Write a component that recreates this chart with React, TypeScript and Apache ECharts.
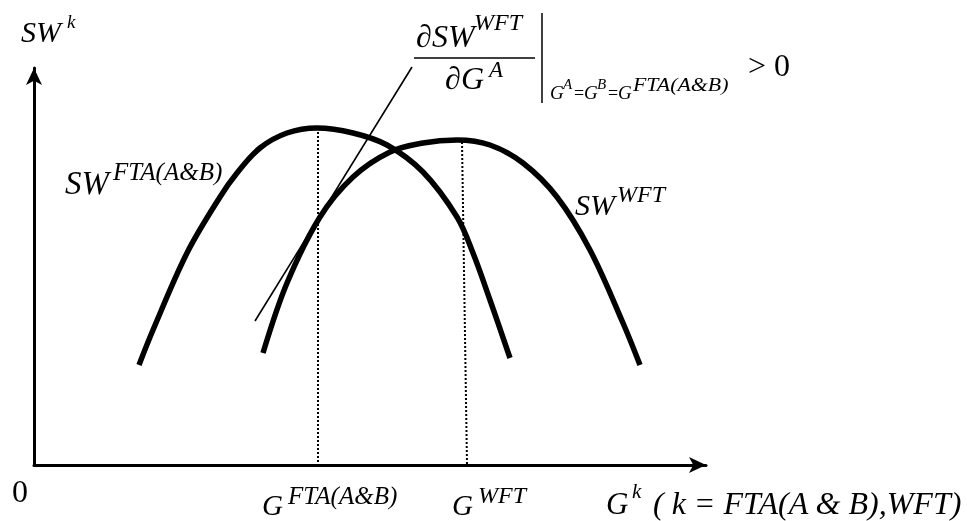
import React, { useEffect, useRef } from "react";
import * as echarts from "echarts";

// Curves (x: G, y: SW, in chart units)
const swFTA: number[][] = [
  [105, 100], [119, 135], [153, 212], [186, 268], [203, 292], [226, 317], [253, 332],
  [283, 337], [319, 332], [353, 320], [389, 293], [423, 248], [439, 212], [456, 165], [476, 107],
];
const swWFT: number[][] = [
  [229, 112], [253, 182], [286, 248], [319, 288], [356, 313], [389, 322], [423, 325],
  [456, 320], [489, 302], [523, 268], [556, 215], [589, 142], [606, 100],
];
const tangent: number[][] = [[221, 144], [378, 398]];
const dropFTA: number[][] = [[284, 337], [284, 0]];
const dropWFT: number[][] = [[428, 323], [433, 0]];

const FAMILY = "Liberation Serif";

// text element; yc is the vertical centre of the capitals
function txt(x: number, yc: number, text: string, size: number, italic = true, scaleX = 1) {
  return {
    type: "text",
    x,
    y: yc - size / 2,
    scaleX,
    style: {
      text,
      fontFamily: FAMILY,
      fontSize: size,
      fontStyle: italic ? "italic" : "normal",
      fill: "#000",
    },
  };
}

function seg(x1: number, y1: number, x2: number, y2: number) {
  return {
    type: "line",
    shape: { x1, y1, x2, y2 },
    style: { stroke: "#000", lineWidth: 1.5 },
  };
}

export default function App() {
  const ref = useRef<HTMLDivElement>(null);
  useEffect(() => {
    if (!ref.current) return;
    const chart = echarts.init(ref.current, null, { renderer: "svg" });
    const lineBase = { type: "line", symbol: "none", silent: true, clip: false, z: 3 };
    chart.setOption({
      animation: false,
      textStyle: { fontFamily: FAMILY },
      grid: { left: 34, right: 261, top: 68, bottom: 56 },
      xAxis: {
        type: "value",
        min: 0,
        max: 672,
        axisLine: {
          show: true,
          symbol: ["none", "arrow"],
          symbolSize: [12, 17],
          lineStyle: { color: "#000", width: 3 },
        },
        axisTick: { show: false },
        axisLabel: { show: false },
        splitLine: { show: false },
      },
      yAxis: {
        type: "value",
        min: 0,
        max: 397,
        axisLine: {
          show: true,
          symbol: ["none", "arrow"],
          symbolSize: [12, 17],
          lineStyle: { color: "#000", width: 3 },
        },
        axisTick: { show: false },
        axisLabel: { show: false },
        splitLine: { show: false },
      },
      series: [
        { ...lineBase, name: "SW FTA", data: swFTA, smooth: 0.35, lineStyle: { color: "#000", width: 5.5 } },
        { ...lineBase, name: "SW WFT", data: swWFT, smooth: 0.35, lineStyle: { color: "#000", width: 5.5 } },
        { ...lineBase, name: "tangent", data: tangent, lineStyle: { color: "#000", width: 1.6 } },
        { ...lineBase, name: "G FTA", data: dropFTA, lineStyle: { color: "#000", width: 2, type: [2, 2] } },
        { ...lineBase, name: "G WFT", data: dropWFT, lineStyle: { color: "#000", width: 2, type: [2, 2] } },
      ],
      graphic: [
        // y-axis title
        txt(21, 31, "SW", 30),
        txt(67, 21, "k", 19),
        // origin
        txt(12, 491, "0", 32, false),
        // curve labels
        txt(65, 183, "SW", 33),
        txt(113, 171, "FTA(A&B)", 25),
        txt(575, 204, "SW", 30),
        txt(617, 194, "WFT", 24),
        // derivative fraction
        txt(416, 36, "∂", 32, false),
        txt(432, 36, "SW", 32),
        txt(474, 22, "WFT", 24),
        seg(414, 58, 535, 58),
        txt(445, 78, "∂", 32, false),
        txt(461, 78, "G", 32),
        txt(489, 69, "A", 23),
        seg(542, 13, 542, 103),
        txt(550, 92, "G", 19),
        txt(563, 84, "A", 15),
        txt(574, 93, "=", 18, false),
        txt(584, 92, "G", 19),
        txt(597, 84, "B", 15),
        txt(608, 93, "=", 18, false),
        txt(618, 92, "G", 19),
        txt(633, 84, "FTA(A&B)", 19, true, 1.15),
        txt(748, 65, "> 0", 32, false),
        // x-axis labels
        txt(262, 505, "G", 29),
        txt(288, 495, "FTA(A&B)", 25),
        txt(452, 505, "G", 29),
        txt(478, 495, "WFT", 24),
        txt(606, 503, "G", 31),
        txt(632, 491, "k", 21),
        txt(653, 503, "( k = FTA(A & B),WFT)", 32),
      ],
    });
    return () => chart.dispose();
  }, []);
  return <div ref={ref} style={{ position: "fixed", left: 0, top: 0, width: 967, height: 521 }} />;
}
